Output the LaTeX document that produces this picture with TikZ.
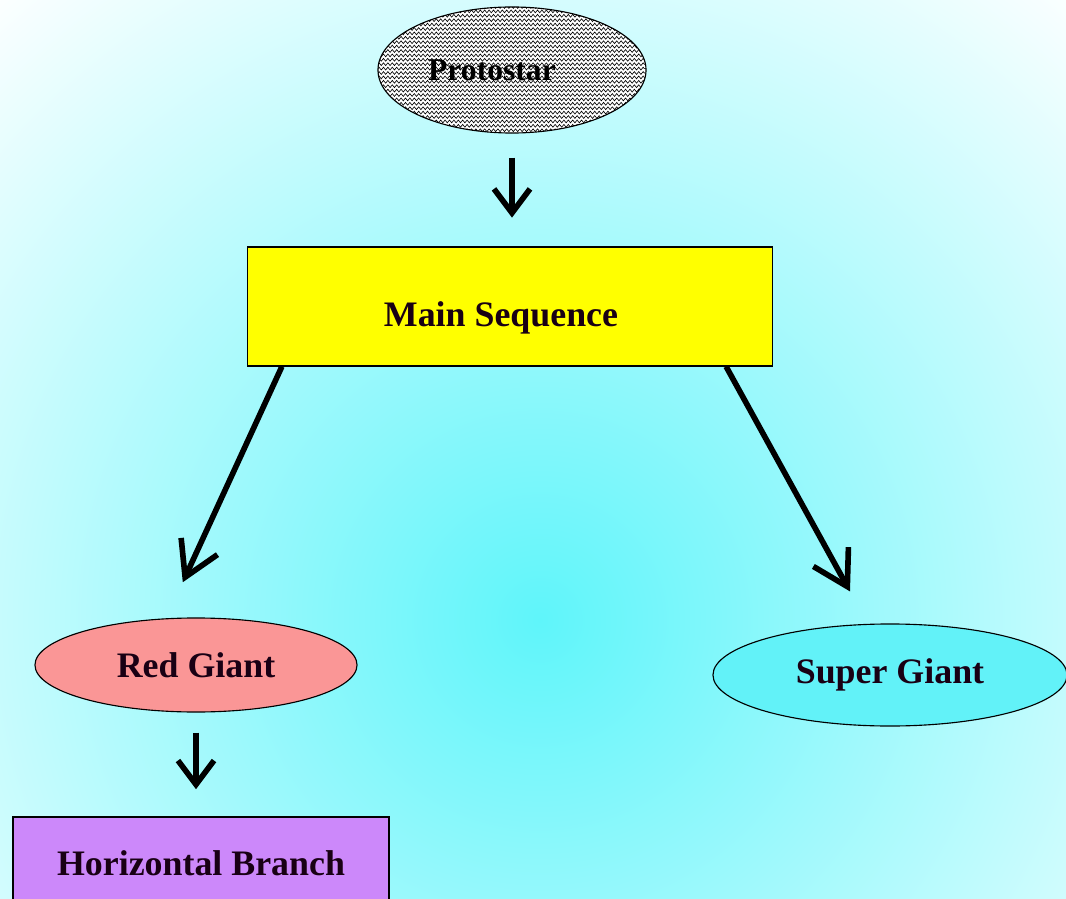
\documentclass[tikz,border=0pt]{standalone}
\usepackage{fontspec}
\setmainfont{Liberation Serif}
\usetikzlibrary{shapes.geometric,arrows.meta,decorations.pathmorphing}

\definecolor{glowColor}{RGB}{95,245,250}
\definecolor{inkColor}{RGB}{25,0,20}
\definecolor{mainColor}{RGB}{255,255,0}
\definecolor{redColor}{RGB}{250,150,150}
\definecolor{superColor}{RGB}{98,242,248}
\definecolor{branchColor}{RGB}{204,136,250}

\tikzset{
  stage/.style={draw=black, line width=0.8pt, inner sep=0pt, text=inkColor,
    font=\fontsize{25.5}{30}\selectfont\bfseries},
  zigRow/.style={line width=0.45pt, decorate,
    decoration={zigzag, segment length=0.11cm, amplitude=0.035cm}},
  shortArrow/.style={line width=4pt, -{Straight Barb[length=0.6cm,width=0.9cm]}},
  longArrow/.style={line width=4pt, -{Straight Barb[length=0.85cm,width=1cm]}}
}

\begin{document}
\begin{tikzpicture}[x=0.025cm,y=-0.025cm]
\useasboundingbox (0,0) rectangle (1066,899);
\clip (0,0) rectangle (1066,899);
% background glow
\fill[white] (0,0) rectangle (1066,899);
\shade[inner color=glowColor, outer color=white] (540,620) circle (21cm);

% stages
\node[stage, ellipse, fill=white, minimum width=6.7cm, minimum height=3.15cm,
  font=\fontsize{22.5}{27}\selectfont\bfseries, text=black,
  path picture={
    \foreach \k in {0,...,30}
      \draw[zigRow] ([yshift=-\k*0.11cm]path picture bounding box.north west)
        -- ([yshift=-\k*0.11cm]path picture bounding box.north east);
  }] (proto) at (512,70) {\hspace*{-1cm}Protostar};
\node[stage, rectangle, fill=mainColor, minimum width=13.125cm, minimum height=2.975cm] (main) at (510,306.5) {\raisebox{-0.5cm}[0pt][0pt]{\hspace*{-0.45cm}Main Sequence}};
\node[stage, ellipse, fill=redColor, minimum width=8.05cm, minimum height=2.35cm] (red) at (196,665) {Red Giant};
\node[stage, ellipse, fill=superColor, minimum width=8.85cm, minimum height=2.55cm] (super) at (890,675) {Super Giant};
\node[stage, rectangle, fill=branchColor, minimum width=9.4cm, minimum height=2.3cm] (hb) at (201,863) {Horizontal Branch};

% arrows
\draw[shortArrow, shorten <=0.6cm, shorten >=0.72cm] (proto.south) -- (proto.south |- main.north);
\draw[longArrow] ([xshift=0.875cm]main.south west) -- ([xshift=-0.33cm,yshift=0.88cm]red.north);
\draw[longArrow] ([xshift=-1.175cm]main.south east) -- ([xshift=-1cm,yshift=0.8cm]super.north);
\draw[shortArrow, shorten <=0.5cm, shorten >=0.68cm] (red.south) -- (red.south |- hb.north);
\end{tikzpicture}
\end{document}
